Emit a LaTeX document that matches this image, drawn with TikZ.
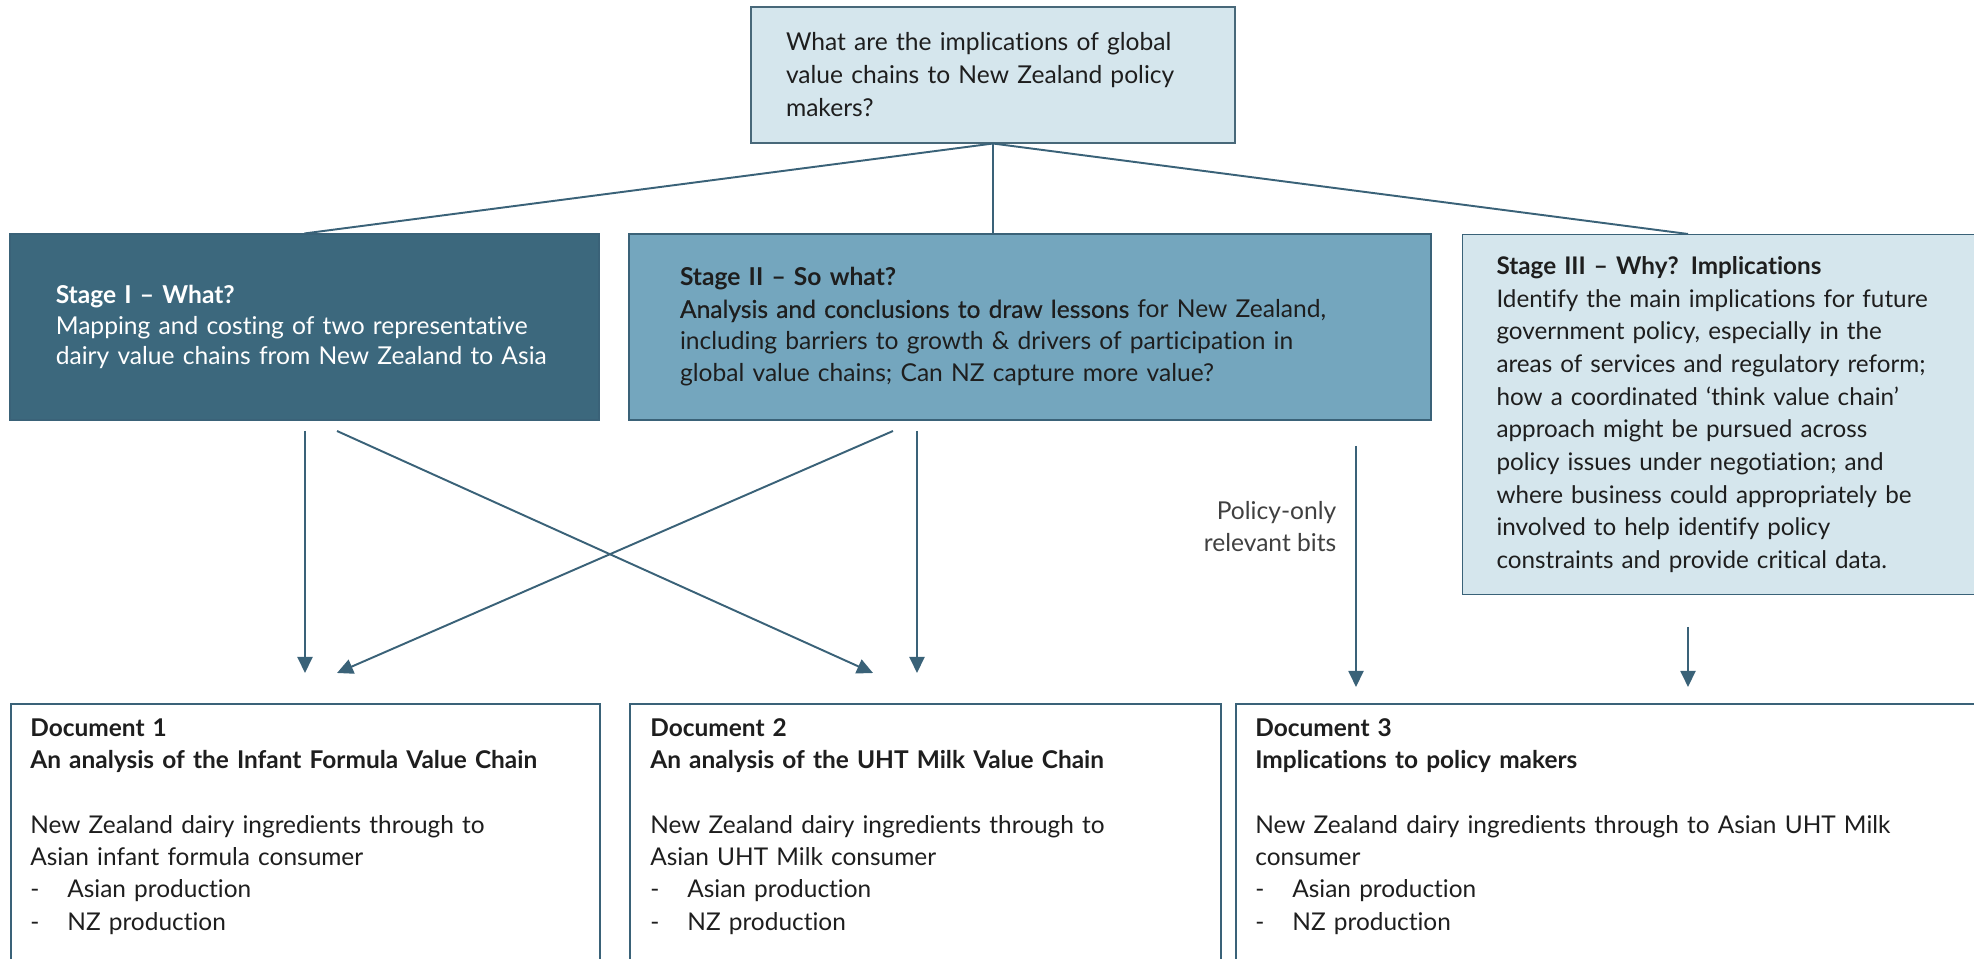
\documentclass[tikz,border=0pt]{standalone}
\usepackage{fontspec}
\setmainfont{Lato}[Ligatures={NoCommon}]
\newfontfamily\latomed{Lato}[FakeBold=0.5, Ligatures={NoCommon}]
\usetikzlibrary{arrows.meta,positioning}

\definecolor{deepteal}{HTML}{3C687D}
\definecolor{midteal}{HTML}{74A6BE}
\definecolor{paleteal}{HTML}{D5E6ED}
\definecolor{linkteal}{HTML}{3A6278}
\definecolor{inkgrey}{HTML}{1E1E1E}

\tikzset{
  boxtext/.style={font=\fontsize{14pt}{17.4pt}\selectfont, align=left, inner ysep=0pt},
  qbox/.style={boxtext, fill=paleteal, draw=linkteal!80!gray, line width=0.6pt,
    text=inkgrey, minimum height=2.72cm, text width=8.28cm, inner xsep=0.7cm,
    font=\fontsize{14pt}{18.8pt}\selectfont},
  stagebox/.style={boxtext, draw=linkteal, line width=0.6pt, minimum height=3.72cm},
  docbox/.style={draw=linkteal, line width=0.9pt, fill=white, minimum height=6cm,
    anchor=north west, inner sep=0pt},
  doctext/.style={boxtext, text=inkgrey, text width=13cm, inner sep=0pt,
    font=\fontsize{13.9pt}{18.4pt}\selectfont},
  link/.style={draw=linkteal, line width=1.1pt},
  flow/.style={link, -{Triangle[width=0.3cm,length=0.32cm]}}
}
\newcommand{\dashitem}[1]{\makebox[0.74cm][l]{-}#1}

\begin{document}
\begin{tikzpicture}
  \useasboundingbox[fill=white] (0,0) rectangle (39.48,-19.18);

  % the question on top
  \node[qbox] (q) at (19.86,-1.5) {What are the implications of global\\
    value chains to New Zealand policy\\ makers?};

  % three stages
  \node[stagebox, fill=deepteal, text=white, minimum width=11.78cm,
    text width=9.95cm, inner xsep=0.915cm] (s1) at (6.09,-6.54)
    {\textbf{Stage I – What?}\\ Mapping and costing of two representative\\
     dairy value chains from New Zealand to Asia};
  \node[stagebox, fill=midteal, text=inkgrey, minimum width=16.04cm,
    text width=14cm, inner xsep=1.02cm, font=\fontsize{14pt}{18.2pt}\selectfont] (s2) at (20.6,-6.54)
    {\textbf{Stage II – So what?}\\ {\latomed Analysis and conclusions to draw lessons} for New Zealand,\\
     including barriers to growth \& drivers of participation in\\
     global value chains; Can NZ capture more value?};
  \node[stagebox, fill=paleteal, text=inkgrey, anchor=north west, minimum height=7.2cm,
    text width=11.2cm, inner xsep=0.68cm, font=\fontsize{13.8pt}{18.6pt}\selectfont] (s3) at (29.24,-4.68)
    {\textbf{Stage III – Why? Implications}\\ Identify the main implications for future\\
     government policy, especially in the\\ areas of services and regulatory reform;\\
     how a coordinated ‘think value chain’\\ approach might be pursued across\\
     policy issues under negotiation; and\\ where business could appropriately be\\
     involved to help identify policy\\ constraints and provide critical data.};

  % lines from the question down to the stages
  \draw[link] (q.south) -- (s1.north);
  \draw[link] (q.south) -- (q.south |- s2.north);
  \draw[link] (q.south) -- ([xshift=4.52cm]s3.north west);

  % the three documents
  \node[docbox, minimum width=11.78cm] (d1) at (0.2,-14.06) {};
  \node[docbox, minimum width=11.82cm] (d2) at (12.58,-14.06) {};
  \node[docbox, minimum width=15cm] (d3) at (24.7,-14.06) {};

  \node[doctext, below right=0.3cm and 0.4cm of d1.north west] (t1)
    {\textbf{Document 1}\\ \textbf{An analysis of the Infant Formula Value Chain}\\[18.4pt]
     New Zealand dairy ingredients through to\\ Asian infant formula consumer\\
     \dashitem{Asian production}\\ \dashitem{NZ production}};
  \node[doctext, below right=0.3cm and 0.42cm of d2.north west] (t2)
    {\textbf{Document 2}\\ \textbf{An analysis of the UHT Milk Value Chain}\\[18.4pt]
     New Zealand dairy ingredients through to\\ Asian UHT Milk consumer\\
     \dashitem{Asian production}\\ \dashitem{NZ production}};
  \node[doctext, below right=0.3cm and 0.4cm of d3.north west] (t3)
    {\textbf{Document 3}\\ \textbf{Implications to policy makers}\\[18.4pt]
     New Zealand dairy ingredients through to Asian UHT Milk\\ consumer\\
     \dashitem{Asian production}\\ \dashitem{NZ production}};

  % arrow ends
  \coordinate (a1) at (6.1,-8.62);   \coordinate (b1) at (6.1,-13.46);
  \coordinate (a2) at (6.74,-8.62);  \coordinate (b2) at (17.46,-13.46);
  \coordinate (a3) at (17.86,-8.62); \coordinate (b3) at (6.74,-13.46);
  \coordinate (a4) at (18.34,-8.62); \coordinate (b4) at (18.34,-13.46);
  \coordinate (a5) at (27.12,-8.92); \coordinate (b5) at (27.12,-13.74);
  \coordinate (a6) at (33.76,-12.54); \coordinate (b6) at (33.76,-13.74);

  \draw[flow] (a1) -- (b1);
  \draw[flow] (a2) -- (b2);
  \draw[flow] (a3) -- (b3);
  \draw[flow] (a4) -- (b4);
  \draw[flow] (a5) -- (b5);
  \draw[flow] (a6) -- (b6);

  \node[boxtext, text=inkgrey!85, anchor=east, align=right,
    font=\fontsize{14pt}{18.2pt}\selectfont] (pol) at (26.85,-10.54)
    {Policy-only\\ relevant bits};
\end{tikzpicture}
\end{document}
